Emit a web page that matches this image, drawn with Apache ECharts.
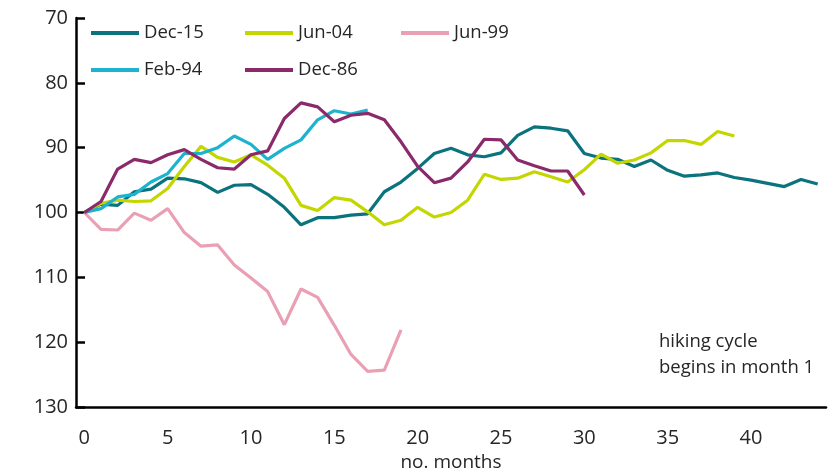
<!DOCTYPE html>
<html>
<head>
<meta charset="utf-8">
<script src="https://cdn.jsdelivr.net/npm/echarts@6/dist/echarts.min.js"></script>
<style>
html,body{margin:0;padding:0;background:#fff;overflow:hidden;}
#c{width:835px;height:471px;}
</style>
</head>
<body>
<div id="c"></div>
<script>
var months = [];
for (var i = 0; i <= 44; i++) months.push(String(i));

var dec15 = [100, 98.7, 98.9, 96.8, 96.4, 94.7, 94.8, 95.4, 96.9, 95.8, 95.7, 97.2, 99.2, 101.9, 100.8, 100.8, 100.4, 100.2, 96.8, 95.3, 93.2, 90.9, 90.1, 91.1, 91.4, 90.8, 88.1, 86.8, 87.0, 87.4, 90.9, 91.6, 91.8, 92.9, 91.9, 93.5, 94.4, 94.2, 93.9, 94.6, 95.0, 95.5, 96.0, 94.9, 95.6];
var jun04 = [100, 98.6, 98.1, 98.3, 98.2, 96.3, 92.9, 89.8, 91.5, 92.2, 91.1, 92.7, 94.7, 98.9, 99.7, 97.7, 98.1, 99.9, 101.9, 101.2, 99.2, 100.7, 100.0, 98.1, 94.1, 94.9, 94.7, 93.7, 94.5, 95.3, 93.4, 91.0, 92.4, 91.9, 90.8, 88.9, 88.9, 89.5, 87.5, 88.2];
var jun99 = [100, 102.6, 102.7, 100.1, 101.2, 99.4, 103.1, 105.2, 105.0, 108.1, 110.1, 112.2, 117.3, 111.8, 113.1, 117.4, 121.9, 124.5, 124.3, 118.1];
var feb94 = [100, 99.4, 97.6, 97.2, 95.3, 94.0, 90.9, 90.9, 90.0, 88.2, 89.5, 91.8, 90.1, 88.8, 85.7, 84.3, 84.8, 84.2];
var dec86 = [100, 98.3, 93.3, 91.8, 92.3, 91.1, 90.3, 91.8, 93.1, 93.3, 91.1, 90.5, 85.5, 83.1, 83.7, 86.0, 85.0, 84.7, 85.7, 89.1, 92.9, 95.4, 94.7, 92.2, 88.7, 88.8, 91.9, 92.8, 93.6, 93.6, 97.3];

var yTicks = [70, 80, 90, 100, 110, 120, 130];

var FONT = '"Open Sans", sans-serif';
var TXT = '#262626';

var colors = {
  'Dec-15': '#0b737d',
  'Jun-04': '#c4d600',
  'Jun-99': '#e9a0b5',
  'Feb-94': '#1cb3cf',
  'Dec-86': '#8a2a6b'
};

function mkSeries(name, data) {
  return {
    name: name, type: 'line', data: data, symbol: 'none',
    lineStyle: { width: 3.2, color: colors[name] },
    itemStyle: { color: colors[name] },
    emphasis: { disabled: true }
  };
}

function mkLegend(name, left, top) {
  return {
    data: [name], left: left, top: top, padding: 0,
    icon: 'rect', itemWidth: 48, itemHeight: 4,
    textStyle: { fontFamily: FONT, fontSize: 18.5, color: TXT, lineHeight: 22 },
    selectedMode: false
  };
}

var chart = echarts.init(document.getElementById('c'), null, { renderer: 'canvas', width: 835, height: 471 });
chart.setOption({
  animation: false,
  backgroundColor: '#fff',
  grid: { left: 76, right: 9, top: 18, bottom: 64, containLabel: false, outerBoundsMode: 'none' },
  legend: [
    mkLegend('Dec-15', 91, 22),
    mkLegend('Jun-04', 245, 22),
    mkLegend('Jun-99', 401, 22),
    mkLegend('Feb-94', 91, 59),
    mkLegend('Dec-86', 245, 59)
  ],
  xAxis: {
    type: 'category', data: months, boundaryGap: true,
    name: 'no. months', nameLocation: 'middle', nameGap: 46,
    nameTextStyle: { fontFamily: FONT, fontSize: 19, color: TXT },
    axisLine: { lineStyle: { color: '#000', width: 2.5 } },
    axisTick: { inside: true, length: 8, interval: 4, lineStyle: { color: '#000', width: 2.5 } },
    axisLabel: { interval: 4, margin: 21, fontFamily: FONT, fontSize: 20, color: TXT },
    splitLine: { show: false }
  },
  yAxis: {
    type: 'value', inverse: true, min: yTicks[0], max: yTicks[yTicks.length - 1], interval: 10,
    axisLine: { show: true, lineStyle: { color: '#000', width: 2.5 } },
    axisTick: { show: true, inside: true, length: 9, lineStyle: { color: '#000', width: 2.5 } },
    axisLabel: { margin: 8, fontFamily: FONT, fontSize: 20, color: TXT },
    splitLine: { show: false }
  },
  graphic: [
    { type: 'text', left: 659, top: 329, style: { text: 'hiking cycle\nbegins in month 1', fontFamily: FONT, fontSize: 18.5, lineHeight: 26, fill: TXT } }
  ],
  series: [
    mkSeries('Dec-15', dec15),
    mkSeries('Jun-04', jun04),
    mkSeries('Jun-99', jun99),
    mkSeries('Feb-94', feb94),
    mkSeries('Dec-86', dec86)
  ]
});
</script>
</body>
</html>
